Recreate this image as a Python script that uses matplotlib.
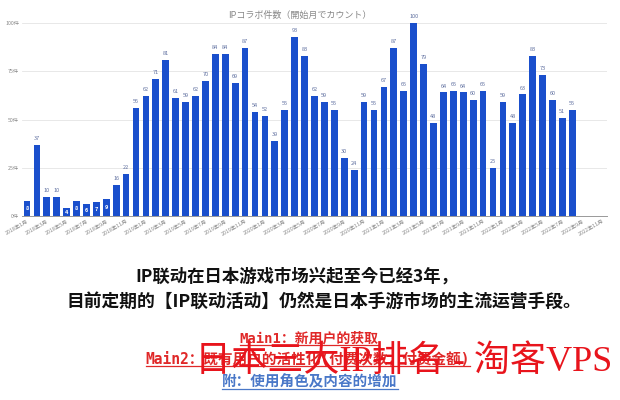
import matplotlib
matplotlib.use('Agg')
import matplotlib.pyplot as plt
from matplotlib.lines import Line2D

plt.rcParams['font.family'] = ['Noto Sans CJK JP', 'DejaVu Sans']

# monthly IP collab counts, 2018/1 .. 2022/8 (last 3 months of axis are empty)
months = [f'{y}年{m}月' for y in range(2018, 2023) for m in range(1, 13)][:59]
counts = [8, 37, 10, 10, 4, 8, 6, 7, 9, 16, 22,
          56, 62, 71, 81, 61, 59, 62, 70, 84, 84, 69, 87,
          54, 52, 39, 55, 93, 83, 62, 59, 55, 30, 24,
          59, 55, 67, 87, 65, 100, 79, 48, 64, 65, 64, 60, 65,
          25, 59, 48, 63, 83, 73, 60, 51, 55]
y_ticks = [0, 25, 50, 75, 100]
y_labels = ['0件', '25件', '50件', '75件', '100件']

title = 'IPコラボ件数（開始月でカウント）'
line1 = 'IP联动在日本游戏市场兴起至今已经3年，'
line2 = '目前定期的【IP联动活动】仍然是日本手游市场的主流运营手段。'
main1 = 'Main1：新用户的获取'
main2 = 'Main2：既有用户的活性化(付费次数，付费金额)'
extra = '附：使用角色及内容的增加'
watermark = '日本三大IP排名 - 淘客VPS'

bar_color = '#1a4fcc'
mono_cjk = ['DejaVu Sans Mono', 'Noto Sans CJK SC']

fig = plt.figure(figsize=(6.2, 4.0), dpi=100)
ax = fig.add_axes([22 / 620, 184 / 400, 585 / 620, 193 / 400])

x = list(range(len(counts)))
ax.bar(x, counts, width=0.68, color=bar_color, zorder=2)
ax.set_xlim(-0.5, len(months) - 0.5)
ax.set_ylim(0, 100)

for i, v in zip(x, counts):
    if v < 10:
        ax.text(i, v / 2, str(v), ha='center', va='center', fontsize=4,
                color='white', fontweight='bold', zorder=3)
    else:
        ax.text(i, v + 2, str(v), ha='center', va='bottom', fontsize=4,
                color='#6070a0', zorder=3, clip_on=False)

ax.set_yticks(y_ticks)
ax.set_yticklabels(y_labels, fontsize=3.8, color='#888888')
ax.set_xticks(range(0, len(months), 2))
ax.set_xticklabels(months[::2], fontsize=3.8, color='#888888',
                   rotation=30, ha='right', rotation_mode='anchor')
ax.tick_params(length=0, pad=2)
ax.grid(axis='y', color='#e4e4e4', linewidth=0.6, zorder=0)
for s in ['top', 'right', 'left']:
    ax.spines[s].set_visible(False)
ax.spines['bottom'].set_color('#999999')
ax.spines['bottom'].set_linewidth(0.7)

fig.text(300 / 620, 1 - 15 / 400, title, ha='center', va='center',
         fontsize=6.5, color='#888888')

fig.text(297 / 620, 1 - 277 / 400, line1, ha='center', va='center',
         fontsize=12.5, fontweight='bold', color='#111111')
fig.text(324 / 620, 1 - 302 / 400, line2, ha='center', va='center',
         fontsize=12.8, fontweight='bold', color='#111111')

t_main1 = fig.text(309 / 620, 1 - 339 / 400, main1, ha='center', va='center',
                   fontsize=10, fontweight='bold', color='#e02828', family=mono_cjk)
t_main2 = fig.text(308 / 620, 1 - 359 / 400, main2, ha='center', va='center',
                   fontsize=10.5, fontweight='bold', color='#e02828', family=mono_cjk)
t_extra = fig.text(310 / 620, 1 - 382 / 400, extra, ha='center', va='center',
                   fontsize=10.5, fontweight='bold', color='#4a78c8', family=mono_cjk)

fig.text(404 / 620, 1 - 362 / 400, watermark, ha='center', va='center',
         fontsize=26, color='#e8141c', fontweight='light',
         family=['Liberation Serif', 'Noto Sans CJK SC'], zorder=5)

# underline the three key lines
fig.canvas.draw()
inv = fig.transFigure.inverted()
for t in [t_main1, t_main2, t_extra]:
    bb = t.get_window_extent()
    (x0, y0), (x1, _) = inv.transform([(bb.x0, bb.y0), (bb.x1, bb.y1)])
    fig.add_artist(Line2D([x0, x1], [y0 + 0.002, y0 + 0.002], transform=fig.transFigure,
                          color=t.get_color(), linewidth=0.9))

fig.savefig('out.png', dpi=100)
